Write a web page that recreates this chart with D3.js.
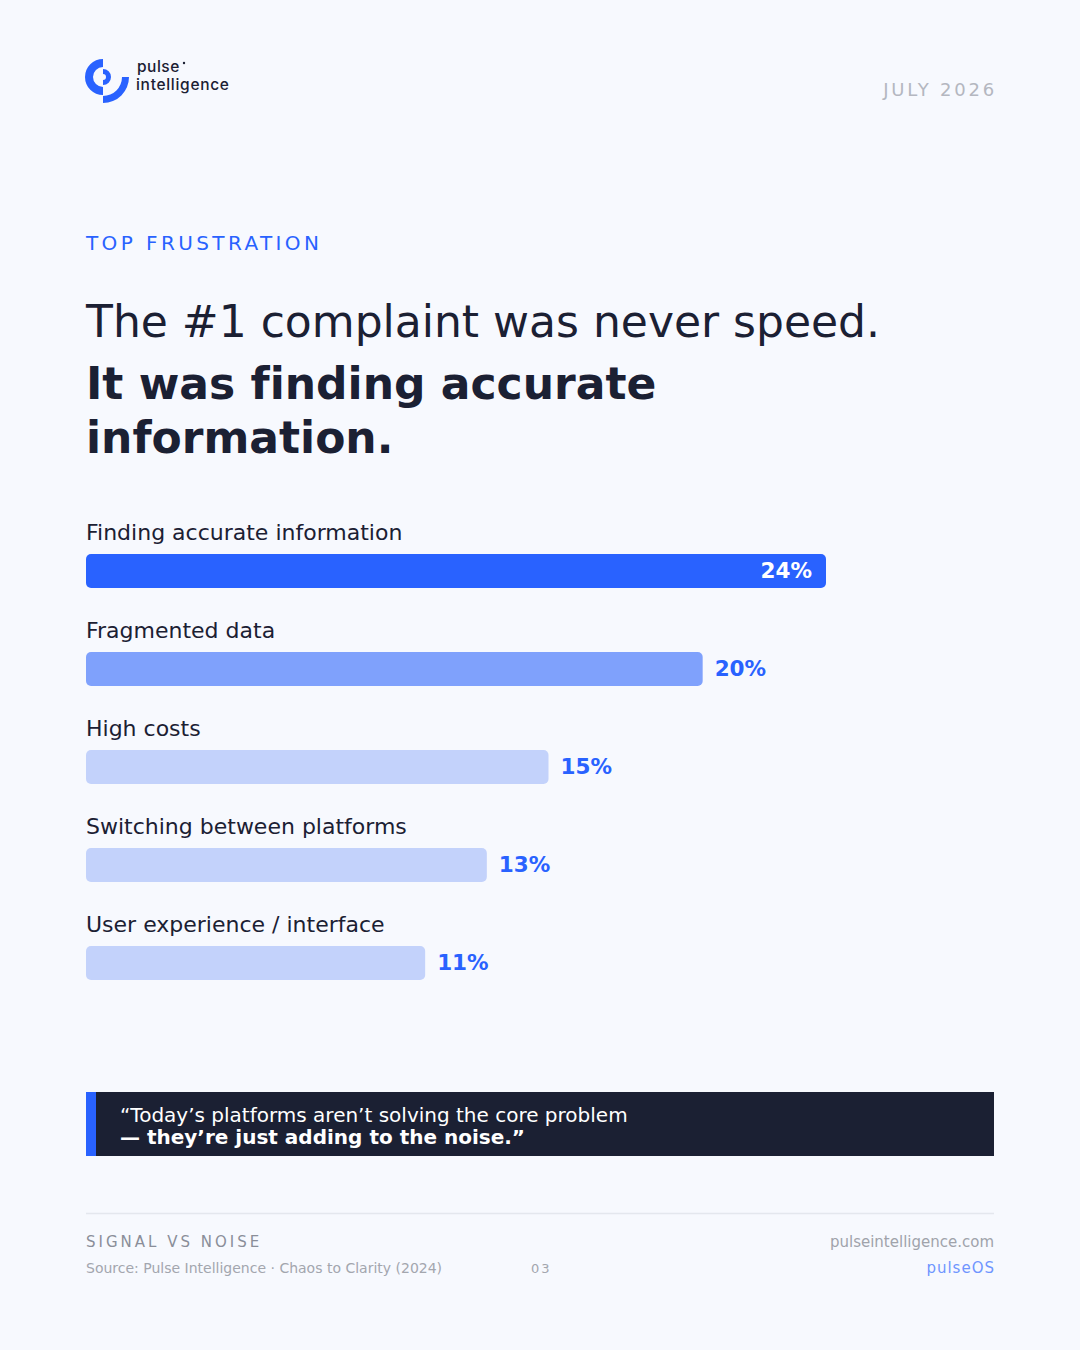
<!DOCTYPE html>
<html lang="en">
<head>
<meta charset="UTF-8">
<title>Top frustration</title>
<script src="https://cdn.jsdelivr.net/npm/d3@7"></script>
<style>
    html, body {
        margin: 0;
        padding: 0;
        background: #f7f9fe;
    }
    svg text {
        font-family: "DejaVu Sans", sans-serif;
        font-variant-ligatures: none;
    }
</style>
</head>
<body>
<svg id="chart" width="1080" height="1350"></svg>
<script>
    // data
    let categories = ["Finding accurate information", "Fragmented data", "High costs",
        "Switching between platforms", "User experience / interface"];
    let shares = [24, 20, 15, 13, 11];
    let valueLabels = ["24%", "20%", "15%", "13%", "11%"];

    let ink = "#1b2033";
    let blue = "#2962ff";

    let svg = d3.select("#chart");
    svg.append("rect").attr("width", 1080).attr("height", 1350).attr("fill", "#f7f9fe");

    // logo
    let logo = svg.append("g").attr("transform", "translate(103,77)");
    let arc = d3.arc();
    logo.append("path").attr("fill", blue)
        .attr("d", arc({innerRadius: 10, outerRadius: 18, startAngle: Math.PI, endAngle: 2 * Math.PI}));
    logo.append("path").attr("fill", blue)
        .attr("d", arc({innerRadius: 3, outerRadius: 8, startAngle: 0, endAngle: Math.PI}));
    logo.append("path").attr("fill", blue)
        .attr("d", arc({innerRadius: 19, outerRadius: 26, startAngle: Math.PI / 2, endAngle: Math.PI}));
    svg.append("text").attr("x", 137).attr("y", 72)
        .attr("font-size", 15.5).attr("font-weight", 500).attr("letter-spacing", 0.5).attr("fill", ink)
        .style("font-family", "Inter, sans-serif").text("pulse");
    svg.append("text").attr("x", 136).attr("y", 90)
        .attr("font-size", 15.5).attr("font-weight", 500).attr("letter-spacing", 0.7).attr("fill", ink)
        .style("font-family", "Inter, sans-serif").text("intelligence");
    svg.append("circle").attr("cx", 184).attr("cy", 63).attr("r", 1.2).attr("fill", ink);

    svg.append("text").attr("x", 997).attr("y", 96).attr("text-anchor", "end")
        .attr("font-size", 18).attr("letter-spacing", 2.8).attr("fill", "#b4b7c0")
        .text("JULY 2026");

    // headline
    svg.append("text").attr("x", 86).attr("y", 250)
        .attr("font-size", 20).attr("letter-spacing", 3.4).attr("fill", blue)
        .text("TOP FRUSTRATION");
    svg.append("text").attr("x", 86).attr("y", 337)
        .attr("font-size", 44).attr("fill", ink)
        .text("The #1 complaint was never speed.");
    svg.append("text").attr("x", 86).attr("y", 399)
        .attr("font-size", 44).attr("font-weight", "bold").attr("fill", ink)
        .text("It was finding accurate");
    svg.append("text").attr("x", 86).attr("y", 453)
        .attr("font-size", 44).attr("font-weight", "bold").attr("fill", ink)
        .text("information.");

    // bars
    let x = d3.scaleLinear().domain([0, d3.max(shares)]).range([0, 740]);
    let y = d3.scaleBand().domain(categories).range([512, 1002]).paddingInner(0);
    let fills = ["#2962ff", "#7fa1fc", "#c3d2fb", "#c3d2fb", "#c3d2fb"];

    let rows = svg.append("g").attr("transform", "translate(86,0)")
        .selectAll("g").data(categories).join("g")
        .attr("transform", d => `translate(0,${y(d)})`);

    rows.append("text").attr("y", 28)
        .attr("font-size", 22).attr("fill", ink)
        .text(d => d);

    rows.append("rect")
        .attr("y", 42).attr("height", 34).attr("rx", 5)
        .attr("width", (d, i) => x(shares[i]))
        .attr("fill", (d, i) => fills[i]);

    rows.append("text")
        .attr("x", (d, i) => i === 0 ? x(shares[i]) - 14 : x(shares[i]) + 12)
        .attr("y", 66)
        .attr("text-anchor", (d, i) => i === 0 ? "end" : "start")
        .attr("font-size", 21.5).attr("font-weight", "bold")
        .attr("fill", (d, i) => i === 0 ? "#ffffff" : blue)
        .text((d, i) => valueLabels[i]);

    // quote
    svg.append("rect").attr("x", 86).attr("y", 1092).attr("width", 908).attr("height", 64).attr("fill", "#1b2033");
    svg.append("rect").attr("x", 86).attr("y", 1092).attr("width", 10).attr("height", 64).attr("fill", blue);
    svg.append("text").attr("x", 120).attr("y", 1122)
        .attr("font-size", 20).attr("fill", "#ffffff")
        .text("\u201cToday\u2019s platforms aren\u2019t solving the core problem");
    svg.append("text").attr("x", 120).attr("y", 1144)
        .attr("font-size", 20).attr("font-weight", "bold").attr("fill", "#ffffff")
        .text("\u2014 they\u2019re just adding to the noise.\u201d");

    // footer
    svg.append("line").attr("x1", 86).attr("x2", 994).attr("y1", 1213.5).attr("y2", 1213.5)
        .attr("stroke", "#e4e7ee").attr("stroke-width", 1.5);
    svg.append("text").attr("x", 86).attr("y", 1247)
        .attr("font-size", 15).attr("letter-spacing", 3).attr("fill", "#8a8e99")
        .text("SIGNAL VS NOISE");
    svg.append("text").attr("x", 86).attr("y", 1273)
        .attr("font-size", 14).attr("fill", "#a3a6ae")
        .text("Source: Pulse Intelligence \u00b7 Chaos to Clarity (2024)");
    svg.append("text").attr("x", 531).attr("y", 1273)
        .attr("font-size", 13).attr("letter-spacing", 2).attr("fill", "#a3a6ae")
        .text("03");
    svg.append("text").attr("x", 994).attr("y", 1247).attr("text-anchor", "end")
        .attr("font-size", 15).attr("fill", "#a0a3ab")
        .text("pulseintelligence.com");
    svg.append("text").attr("x", 995).attr("y", 1273).attr("text-anchor", "end")
        .attr("font-size", 15).attr("letter-spacing", 1).attr("fill", "#6f95ff")
        .text("pulseOS");
</script>
</body>
</html>
